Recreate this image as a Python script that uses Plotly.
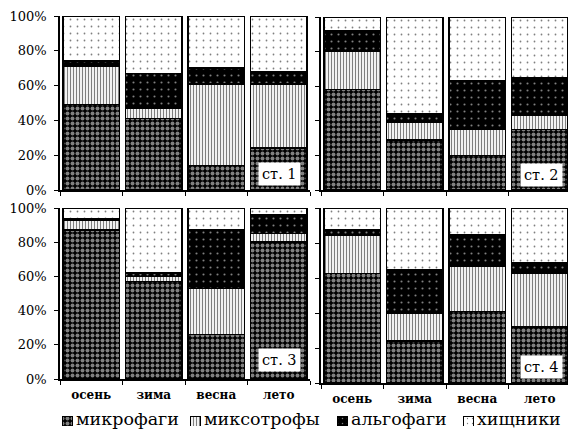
import plotly.graph_objects as go

W, H = 568, 431

seasons = ["осень", "зима", "весна", "лето"]
groups = ["микрофаги", "миксотрофы", "альгофаги", "хищники"]
station_labels = ["ст. 1", "ст. 2", "ст. 3", "ст. 4"]
y_ticks = [0, 20, 40, 60, 80, 100]
y_tick_text = ["0%", "20%", "40%", "60%", "80%", "100%"]

# shares (%) per season: осень, зима, весна, лето
st1_micro = [49, 41, 14, 24]
st1_mixo = [22, 6, 47, 37]
st1_algo = [3, 20, 9, 7]
st1_pred = [26, 33, 30, 32]

st2_micro = [58, 29, 20, 35]
st2_mixo = [22, 10, 15, 8]
st2_algo = [12, 5, 28, 22]
st2_pred = [8, 56, 37, 35]

st3_micro = [87, 57, 26, 80]
st3_mixo = [6, 3, 27, 5]
st3_algo = [1, 2, 34, 11]
st3_pred = [6, 38, 13, 4]

st4_micro = [62.5, 24, 41, 32]
st4_mixo = [22, 16, 26, 31]
st4_algo = [3, 25, 18, 6]
st4_pred = [12.5, 35, 15, 31]

stations = [
    [st1_micro, st1_mixo, st1_algo, st1_pred],
    [st2_micro, st2_mixo, st2_algo, st2_pred],
    [st3_micro, st3_mixo, st3_algo, st3_pred],
    [st4_micro, st4_mixo, st4_algo, st4_pred],
]

# ---- styles / layout constants ----
patterns = [
    dict(shape=".", fgcolor="white", bgcolor="black", size=5, solidity=0.5),
    dict(shape="|", fgcolor="black", bgcolor="white", size=3, solidity=0.4),
    dict(shape=".", fgcolor="white", bgcolor="black", size=7, solidity=0.07),
    dict(shape=".", fgcolor="black", bgcolor="white", size=7, solidity=0.05),
]
bar_colors = ["black", "white", "black", "white"]

# panel geometry in pixels: (x0, x1, y_top, y_bottom, range_end)
panels = [
    (60, 310, 16, 190, 3.5),
    (321, 568, 17, 190, 3.5 - 3 / 62.5),
    (60, 310, 208, 379, 3.5),
    (321, 568, 208, 383, 3.5 - 3 / 62.5),
]
label_pos = [(279, 174), (541, 175), (279, 360), (541, 367)]

# legend row (pixels)
legend_icon_cx = [67, 195, 342, 468]
legend_text_x = [75, 203, 350, 476]
legend_icon_top, legend_icon_bottom = 416, 426
legend_text_y = 419

SERIF = "DejaVu Serif"

fig = go.Figure()

for p, data in enumerate(stations):
    sfx = "" if p == 0 else str(p + 1)
    for g in range(4):
        fig.add_trace(go.Bar(
            x=seasons, y=data[g], name=groups[g],
            xaxis="x" + sfx, yaxis="y" + sfx,
            width=0.91,
            marker=dict(color=bar_colors[g], pattern=patterns[g],
                        line=dict(color="black", width=1.5)),
            legendgroup=groups[g], showlegend=False,
        ))

# legend swatches drawn on an auxiliary pixel-scaled axis
for g in range(4):
    fig.add_trace(go.Bar(
        x=[legend_icon_cx[g]], y=[1], width=[10], name=groups[g],
        xaxis="x5", yaxis="y5", showlegend=False, hoverinfo="skip",
        marker=dict(color=bar_colors[g],
                    pattern=dict(patterns[g], size=min(patterns[g]["size"], 5)),
                    line=dict(color="black", width=1)),
    ))

layout = dict(
    width=W, height=H,
    margin=dict(l=0, r=0, t=0, b=0, pad=0, autoexpand=False),
    paper_bgcolor="white", plot_bgcolor="rgba(0,0,0,0)",
    barmode="stack", bargap=0.09,
    showlegend=False,
    font=dict(family=SERIF, color="black"),
    xaxis5=dict(domain=[0, 1], range=[0, W], visible=False, anchor="y5"),
    yaxis5=dict(domain=[1 - legend_icon_bottom / H, 1 - legend_icon_top / H],
                range=[0, 1], visible=False, anchor="x5"),
)

for p, (x0, x1, yt, yb, rend) in enumerate(panels):
    sfx = "" if p == 0 else str(p + 1)
    bottom = p >= 2
    left = p % 2 == 0
    layout["xaxis" + sfx] = dict(
        domain=[x0 / W, x1 / W], anchor="y" + sfx,
        type="category", range=[-0.5, rend],
        showline=True, linecolor="black", linewidth=1.5,
        ticks="outside", ticklen=4, tickcolor="black", tickwidth=1,
        tickson="boundaries", showgrid=False,
        showticklabels=bottom, ticklabelstandoff=4,
        tickfont=dict(family=SERIF, size=12, color="black", weight="bold"),
    )
    layout["yaxis" + sfx] = dict(
        domain=[1 - yb / H, 1 - yt / H], anchor="x" + sfx,
        range=[0, 100], tickvals=y_ticks, ticktext=y_tick_text,
        showline=True, linecolor="black", linewidth=1.5,
        ticks="outside", ticklen=4, tickcolor="black", tickwidth=1,
        showgrid=False, zeroline=False,
        showticklabels=left, ticklabelstandoff=5,
        tickfont=dict(family=SERIF, size=13, color="black"),
    )

fig.update_layout(**layout)

for p, (lx, ly) in enumerate(label_pos):
    fig.add_annotation(
        x=lx / W, y=1 - ly / H, xref="paper", yref="paper",
        text=station_labels[p], showarrow=False,
        font=dict(family=SERIF, size=14.5, color="black"),
        bgcolor="white", borderpad=3,
        xanchor="center", yanchor="middle",
    )

for g in range(4):
    fig.add_annotation(
        x=legend_text_x[g] / W, y=1 - legend_text_y / H,
        xref="paper", yref="paper", text=groups[g], showarrow=False,
        font=dict(family=SERIF, size=17.5, color="black"),
        xanchor="left", yanchor="middle", borderpad=0,
    )

fig.write_html("out.html",
               config={"displayModeBar": False},
               post_script="document.body.style.margin='0';document.body.style.overflow='hidden';")
